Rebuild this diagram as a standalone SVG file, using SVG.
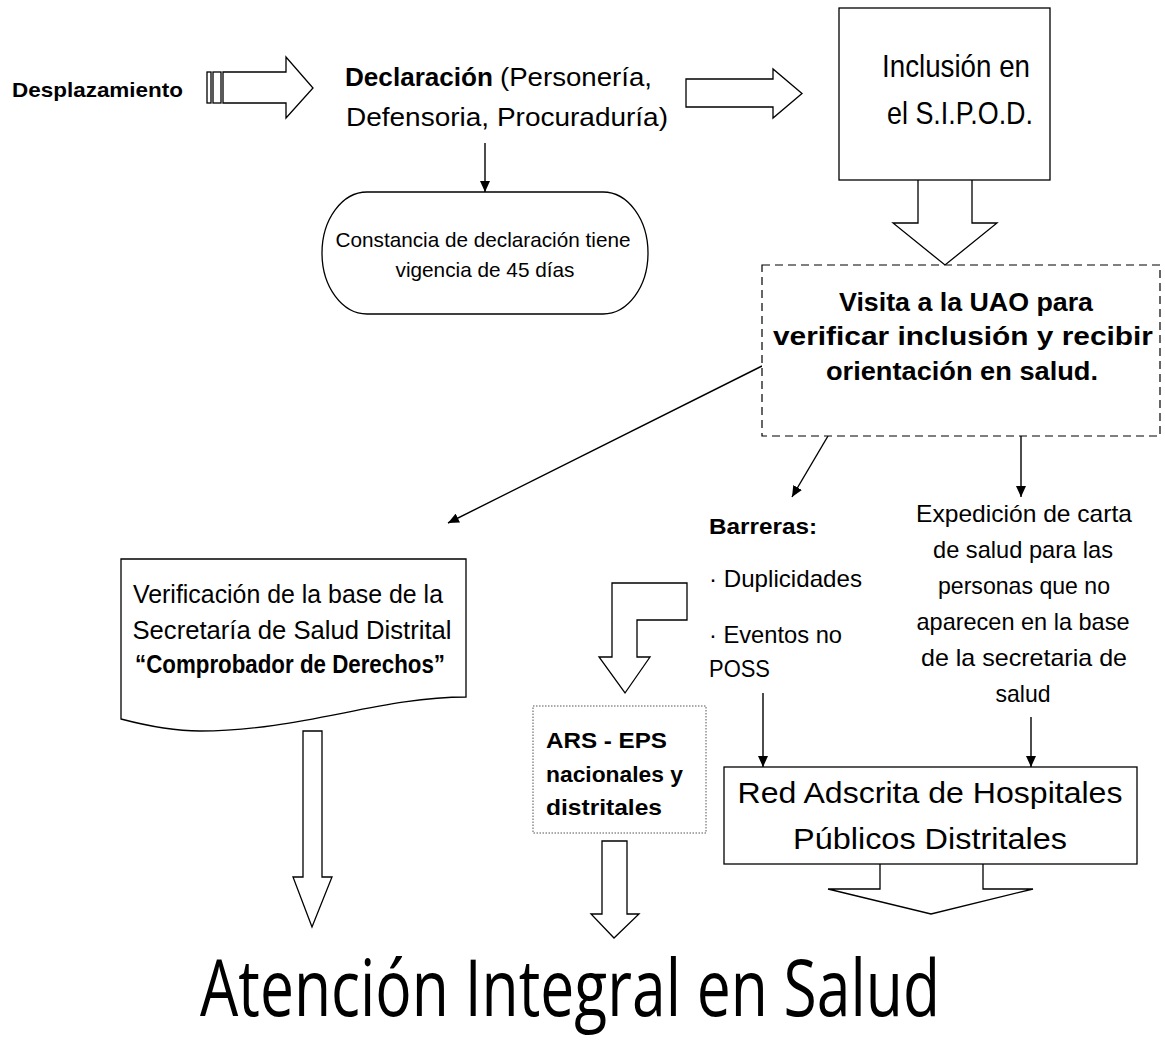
<svg xmlns="http://www.w3.org/2000/svg" width="1165" height="1047" viewBox="0 0 1165 1047">
<defs>
<style>
text{font-family:"Liberation Sans",Arial,sans-serif;fill:#000}
.b{font-weight:bold}
.box{fill:#fff;stroke:#000;stroke-width:1.3}
.blk{fill:#fff;stroke:#000;stroke-width:1.3;stroke-linejoin:miter}
.ln{fill:none;stroke:#000;stroke-width:1.4}
</style>
<marker id="ah" markerUnits="userSpaceOnUse" markerWidth="12" markerHeight="10" refX="11" refY="5" orient="auto">
<path d="M0,0 L11,5 L0,10 Z" fill="#000"/>
</marker>
</defs>
<rect width="1165" height="1047" fill="#fff"/>

<g id="connectors">
<rect x="207" y="72" width="4" height="31" class="blk"/>
<rect x="213" y="72" width="8" height="31" class="blk"/>
<path class="blk" d="M223,72 H286 V57 L313,88 L286,118 V103 H223 Z"/>
<path class="blk" d="M686,79 H773 V69 L802,93.5 L773,118 V107 H686 Z"/>
<path class="blk" d="M918,180 V223 H893 L945,265 L997,223 H972 V180"/>
<line class="ln" x1="485" y1="143" x2="485" y2="192" marker-end="url(#ah)"/>
<line class="ln" x1="762" y1="366" x2="448" y2="523" marker-end="url(#ah)"/>
<line class="ln" x1="828" y1="436" x2="792" y2="497" marker-end="url(#ah)"/>
<line class="ln" x1="1021" y1="436" x2="1021" y2="497" marker-end="url(#ah)"/>
<line class="ln" x1="763" y1="693" x2="763" y2="767" marker-end="url(#ah)"/>
<line class="ln" x1="1031" y1="717" x2="1031" y2="767" marker-end="url(#ah)"/>
<path class="blk" d="M612,583 H687 V620 H637 V657 H650 L625,693 L599,657 H612 Z"/>
<path class="blk" d="M303,731 H322 V877 H332 L312,927 L293,877 H303 Z"/>
<path class="blk" d="M602,841 H627 V914 H639 L614,938 L591,914 H602 Z"/>
<path class="blk" d="M880,864 V889 H828 L931,914 L1033,889 H983 V864"/>
</g>

<g id="desplazamiento">
<text x="12" y="97" class="b" font-size="21" textLength="171" lengthAdjust="spacingAndGlyphs">Desplazamiento</text>
</g>

<g id="declaracion">
<text y="86" font-size="26"><tspan x="345" class="b" textLength="148" lengthAdjust="spacingAndGlyphs">Declaración</tspan><tspan x="500" textLength="152" lengthAdjust="spacingAndGlyphs">(Personería,</tspan></text>
<text x="346" y="126" font-size="26" textLength="322" lengthAdjust="spacingAndGlyphs">Defensoria, Procuraduría)</text>
</g>

<g id="constancia">
<rect x="322" y="192" width="326" height="122" rx="45" ry="61" class="box"/>
<text x="483" y="247" font-size="21" text-anchor="middle" textLength="295" lengthAdjust="spacingAndGlyphs">Constancia de declaración tiene</text>
<text x="485" y="277" font-size="21" text-anchor="middle" textLength="179" lengthAdjust="spacingAndGlyphs">vigencia de 45 días</text>
</g>

<g id="inclusion">
<rect x="839" y="8" width="211" height="172" class="box"/>
<text x="956" y="77" font-size="32" text-anchor="middle" textLength="148" lengthAdjust="spacingAndGlyphs">Inclusión en</text>
<text x="960" y="124" font-size="32" text-anchor="middle" textLength="146" lengthAdjust="spacingAndGlyphs">el S.I.P.O.D.</text>
</g>

<g id="visita">
<rect x="762" y="265" width="398" height="171" fill="#fff" stroke="#000" stroke-width="1.2" stroke-dasharray="8,5"/>
<text x="966" y="311" class="b" font-size="25" text-anchor="middle" textLength="254" lengthAdjust="spacingAndGlyphs">Visita a la UAO para</text>
<text x="963" y="345" class="b" font-size="25" text-anchor="middle" textLength="380" lengthAdjust="spacingAndGlyphs">verificar inclusión y recibir</text>
<text x="962" y="380" class="b" font-size="25" text-anchor="middle" textLength="272" lengthAdjust="spacingAndGlyphs">orientación en salud.</text>
</g>

<g id="verificacion">
<path class="box" d="M121,559 H466 V697 C380,697 300,731 200,731 C170,731 140,724 121,719 Z"/>
<text x="288" y="603" font-size="26" text-anchor="middle" textLength="310" lengthAdjust="spacingAndGlyphs">Verificación de la base de la</text>
<text x="292" y="639" font-size="26" text-anchor="middle" textLength="319" lengthAdjust="spacingAndGlyphs">Secretaría de Salud Distrital</text>
<text x="290" y="673" font-size="26" class="b" text-anchor="middle" textLength="310" lengthAdjust="spacingAndGlyphs">“Comprobador de Derechos”</text>
</g>

<g id="barreras">
<text x="709" y="534" class="b" font-size="22" textLength="108" lengthAdjust="spacingAndGlyphs">Barreras:</text>
<text x="709" y="587" font-size="24" textLength="153" lengthAdjust="spacingAndGlyphs">· Duplicidades</text>
<text x="709" y="643" font-size="24" textLength="133" lengthAdjust="spacingAndGlyphs">· Eventos no</text>
<text x="709" y="677" font-size="24" textLength="61" lengthAdjust="spacingAndGlyphs">POSS</text>
</g>

<g id="expedicion">
<text x="1024" y="522" font-size="24" text-anchor="middle" textLength="216" lengthAdjust="spacingAndGlyphs">Expedición de carta</text>
<text x="1023" y="558" font-size="24" text-anchor="middle" textLength="180" lengthAdjust="spacingAndGlyphs">de salud para las</text>
<text x="1024" y="594" font-size="24" text-anchor="middle" textLength="172" lengthAdjust="spacingAndGlyphs">personas que no</text>
<text x="1023" y="630" font-size="24" text-anchor="middle" textLength="213" lengthAdjust="spacingAndGlyphs">aparecen en la base</text>
<text x="1024" y="666" font-size="24" text-anchor="middle" textLength="206" lengthAdjust="spacingAndGlyphs">de la secretaria de</text>
<text x="1023" y="702" font-size="24" text-anchor="middle" textLength="55" lengthAdjust="spacingAndGlyphs">salud</text>
</g>

<g id="ars">
<rect x="533" y="706" width="173" height="127" fill="#fff" stroke="#555" stroke-width="1" stroke-dasharray="1.5,1.5"/>
<text x="546" y="748" class="b" font-size="22" textLength="121" lengthAdjust="spacingAndGlyphs">ARS - EPS</text>
<text x="546" y="782" class="b" font-size="22" textLength="137" lengthAdjust="spacingAndGlyphs">nacionales y</text>
<text x="546" y="815" class="b" font-size="22" textLength="116" lengthAdjust="spacingAndGlyphs">distritales</text>
</g>

<g id="red">
<rect x="724" y="767" width="413" height="97" class="box"/>
<text x="930" y="803" font-size="30" text-anchor="middle" textLength="385" lengthAdjust="spacingAndGlyphs">Red Adscrita de Hospitales</text>
<text x="930" y="849" font-size="30" text-anchor="middle" textLength="274" lengthAdjust="spacingAndGlyphs">Públicos Distritales</text>
</g>

<g id="atencion">
<text x="200" y="1016" font-size="78" textLength="740" lengthAdjust="spacingAndGlyphs" style="font-family:'Open Sans','Noto Sans',sans-serif">Atención Integral en Salud</text>
</g>
</svg>
